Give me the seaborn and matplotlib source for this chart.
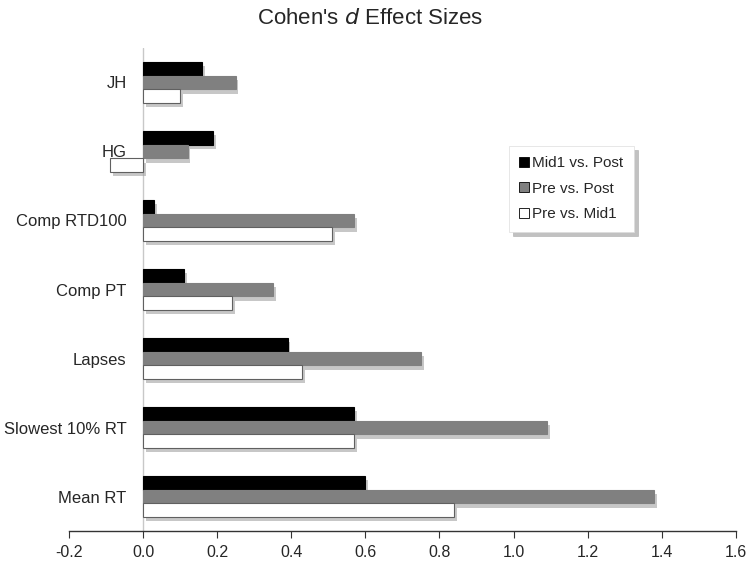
import pandas as pd
import matplotlib.pyplot as plt
import matplotlib.patheffects as pe
from matplotlib.ticker import FormatStrFormatter
import seaborn as sns

# Effect sizes
measures = ['JH', 'HG', 'Comp RTD100', 'Comp PT', 'Lapses', 'Slowest 10% RT', 'Mean RT']
mid1_vs_post = [0.16, 0.19, 0.03, 0.11, 0.39, 0.57, 0.60]
pre_vs_post = [0.25, 0.12, 0.57, 0.35, 0.75, 1.09, 1.38]
pre_vs_mid1 = [0.10, -0.09, 0.51, 0.24, 0.43, 0.57, 0.84]
comparisons = ['Mid1 vs. Post', 'Pre vs. Post', 'Pre vs. Mid1']

df = pd.DataFrame({
    'Measure': measures * 3,
    'Comparison': [c for c in comparisons for _ in measures],
    'd': mid1_vs_post + pre_vs_post + pre_vs_mid1,
})

sns.set_style('white')
plt.rcParams['font.family'] = ['Liberation Sans', 'DejaVu Sans']

fig = plt.figure(figsize=(7.56, 5.64), dpi=100)
ax = fig.add_axes([0.0913, 0.0585, 0.882, 0.8564])

ax.axvline(0, color='#c8c8c8', lw=1, zorder=0)

sns.barplot(data=df, y='Measure', x='d', hue='Comparison', order=measures,
            hue_order=comparisons, palette=['black', '#808080', 'white'],
            orient='h', width=0.6, gap=0, ax=ax, zorder=3)

edges = ['black', '#808080', '#606060']
shadow = [pe.SimplePatchShadow(offset=(2, -3), shadow_rgbFace='#999999', alpha=0.55), pe.Normal()]
for cont, ec in zip(ax.containers, edges):
    for bar in cont:
        bar.set_edgecolor(ec)
        bar.set_linewidth(0.8)
        bar.set_path_effects(shadow)

ax.set_xlim(-0.2, 1.6)
ax.set_ylim(6.5, -0.5)
ax.set_xticks([-0.2, 0.0, 0.2, 0.4, 0.6, 0.8, 1.0, 1.2, 1.4, 1.6])
ax.xaxis.set_major_formatter(FormatStrFormatter('%.1f'))
ax.set_xlabel('')
ax.set_ylabel('')

for s in ['top', 'right', 'left']:
    ax.spines[s].set_visible(False)
ax.spines['bottom'].set_color('#333333')
ax.spines['bottom'].set_linewidth(1)
ax.tick_params(axis='x', bottom=True, length=5, direction='out', color='#333333',
               labelsize=11.5, pad=5)
# labels sit just left of the zero line, not the axes edge
ax.tick_params(axis='y', left=False, length=0, labelsize=12, pad=-41.5)

leg = ax.legend(loc='upper left', bbox_to_anchor=(0.673, 0.742), bbox_transform=fig.transFigure,
                frameon=True, shadow={'color': '#999999', 'alpha': 0.6, 'ox': 3, 'oy': -3},
                fancybox=False, fontsize=11,
                handlelength=0.6, handleheight=0.6, handletextpad=0.25, labelspacing=0.75,
                borderpad=0.7, borderaxespad=0)
leg.get_frame().set_edgecolor('#dddddd')
leg.get_frame().set_linewidth(0.5)
for h in leg.legend_handles:
    h.set_path_effects([])
    h.set_edgecolor('black')
    h.set_linewidth(0.6)

fig.text(0.49, 0.968, "Cohen's $\\mathit{d}$ Effect Sizes", ha='center', va='center', fontsize=16)

plt.savefig('out.png', dpi=100)
